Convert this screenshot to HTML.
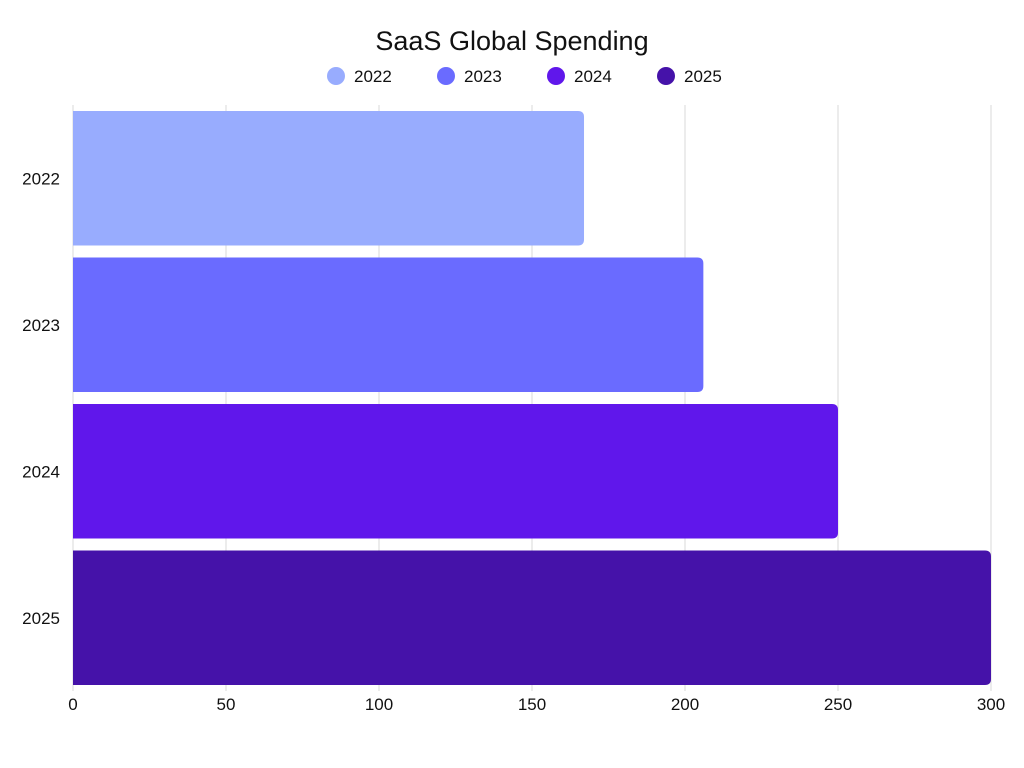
<!DOCTYPE html>
<html><head><meta charset="utf-8"><style>
html,body{margin:0;padding:0;background:#fff;}
svg{display:block;font-family:"Liberation Sans",sans-serif;}
</style></head><body>
<svg id="chart" width="1024" height="768"></svg>
<script>
const categories = ["2022","2023","2024","2025"];
const values = [167, 206, 250, 300];
const colors = ["#98acfe","#6a6bff","#6017eb","#4512a9"];
const xTicks = [0,50,100,150,200,250,300];

const NS = "http://www.w3.org/2000/svg";
const svgEl = document.getElementById("chart");
const x0 = 73, x1 = 991, plotTop = 105, plotBottom = 691;
const xScale = v => x0 + (v / 300) * (x1 - x0);
const band = (plotBottom - plotTop) / categories.length;
function mk(tag, attrs, parent) {
  const e = document.createElementNS(NS, tag);
  for (const k in attrs) e.setAttribute(k, attrs[k]);
  (parent || svgEl).appendChild(e);
  return e;
}
const title = mk("text", {x:512, y:50, "text-anchor":"middle", "font-size":27, fill:"#111"});


title.textContent = "SaaS Global Spending";

const legend = mk("g", {});


categories.forEach((c, i) => {
  const g = mk("g", {}, legend);
  
  
  const cx = 336 + i * 110;
  mk("circle", {cx:cx, cy:76, r:9, fill:colors[i]}, g);
  const t = mk("text", {x:cx + 18, y:82, "font-size":17, fill:"#111"}, g);
  t.textContent = c;
});

const grid = mk("g", {});


xTicks.forEach(v => {
  mk("line", {x1:xScale(v), x2:xScale(v), y1:plotTop, y2:plotBottom, stroke:"#d9d9d9", "stroke-width":1}, grid);
  const t = mk("text", {x:xScale(v), y:710, "text-anchor":"middle", "font-size":17, fill:"#111"});
  
  
  t.textContent = v;
});

categories.forEach((c, i) => {
  const y = plotTop + i * band + 6;
  const h = band - 12;
  const w = xScale(values[i]) - x0;
  const r = 6;
  const d = `M${x0},${y} H${x0 + w - r} Q${x0 + w},${y} ${x0 + w},${y + r} V${y + h - r} Q${x0 + w},${y + h} ${x0 + w - r},${y + h} H${x0} Z`;
  const b = mk("path", {d:d, fill:colors[i]});
  
  
  const t = mk("text", {x:60, y:y + h / 2 + 6, "text-anchor":"end", "font-size":17, fill:"#111"});
  
  
  t.textContent = c;
});
</script>
</body></html>
